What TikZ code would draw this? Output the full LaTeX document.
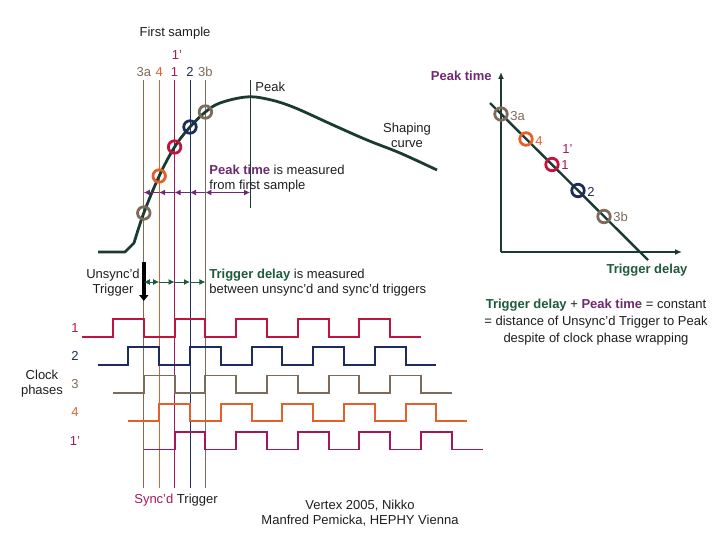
\documentclass[tikz,border=0pt]{standalone}
\usepackage{fontspec}
\setmainfont{Liberation Sans}
\usepackage{xcolor}
\usepackage{tikz}
\usetikzlibrary{arrows.meta}

\definecolor{curvecol}{HTML}{1B3A33}
\definecolor{ph1}{HTML}{C0143F}
\definecolor{ph2}{HTML}{1E2B5E}
\definecolor{ph3}{HTML}{7D6B5A}
\definecolor{ph4}{HTML}{E2602A}
\definecolor{ph1p}{HTML}{A3185A}
\definecolor{peakcol}{HTML}{6E2A6E}
\definecolor{trigcol}{HTML}{1E5A3C}
\definecolor{txtcol}{HTML}{1E1E1E}

\newcommand{\qstep}{15.4}

\begin{document}
\begin{tikzpicture}[x=1pt, y=-1pt, line width=0.8pt,
  every node/.style={font=\fontsize{13}{15}\selectfont, text=txtcol, inner sep=1pt},
  smp/.style={circle, draw=#1, line width=2.8pt, minimum size=12.5pt, inner sep=0pt},
  curve/.style={draw=curvecol, line width=2.8pt, line join=round},
  clk/.style={line width=1.9pt, line join=miter},
  peakarr/.style={draw=peakcol, line width=1pt},
  trigarr/.style={draw=trigcol, line width=1pt},
  tip/.style={-{Latex[length=6pt,width=6pt]}}]
  \useasboundingbox (0,0) rectangle (720,540);

  % sample lines
  \coordinate (t3a) at (143.8, 80);  \coordinate (b3a) at (143.8, 488);
  \coordinate (t4)  at (159.2, 80);  \coordinate (b4)  at (159.2, 488);
  \coordinate (t1)  at (174.6, 80);  \coordinate (b1)  at (174.6, 488);
  \coordinate (t2)  at (190.0, 80);  \coordinate (b2)  at (190.0, 488);
  \coordinate (t3b) at (205.4, 80);  \coordinate (b3b) at (205.4, 488);
  \coordinate (pktop) at (250, 80);  \coordinate (pkbot) at (250, 208);

  \draw[ph3]  (t3a) -- (b3a);
  \draw[ph4]  (t4)  -- (b4);
  \draw[ph1p] (t1)  -- (b1);
  \draw[ph2]  (t2)  -- (b2);
  \draw[ph3]  (t3b) -- (b3b);
  \draw[curvecol, line width=1pt] (pktop) -- (pkbot);

  \node at (175, 33) {First sample};
  \node[text=ph1p] at (177, 55) {1'};
  \node[text=ph3]  at (t3a |- 0,72) {3a};
  \node[text=ph4]  at (t4 |- 0,72)  {4};
  \node[text=ph1p] at (t1 |- 0,72)  {1};
  \node[text=ph2]  at (t2 |- 0,72)  {2};
  \node[text=ph3]  at (t3b |- 0,72) {3b};
  \node[right] at (254, 87) {Peak};

  % shaping curve
  \draw[curve] (98,252) -- (125,252) -- (134,243)
    plot[smooth, tension=0.6] coordinates {(134,243) (143.8,213) (159.2,176)
      (174.6,147) (190,127) (205.4,112) (220,103) (246,97) (267,99) (293,107)
      (333,125) (367,140) (400,153) (437,170)};
  \node[smp=ph3] (c3a) at (143.8,213) {};
  \node[smp=ph4] (c4)  at (159.2,176) {};
  \node[smp=ph1] (c1)  at (174.6,147) {};
  \node[smp=ph2] (c2)  at (190,127) {};
  \node[smp=ph3] (c3b) at (205.4,112) {};
  \node[align=center] at (407, 135) {Shaping\\curve};

  % peak time
  \coordinate (pkrow) at (0, 192.5);
  \foreach \a/\b in {t4/t3a, t1/t4, t2/t1, t3b/t2}
    \draw[peakarr, tip] (\a |- pkrow) -- (\b |- pkrow);
  \draw[peakarr, {Latex[length=6pt,width=6pt]}-{Latex[length=6pt,width=6pt]}]
    (t3b |- pkrow) -- (pktop |- pkrow);
  \node[right, align=left] at (208, 178.5)
    {\textcolor{peakcol}{\textbf{Peak time}} is measured\\from first sample};

  % trigger delay
  \coordinate (trow) at (0, 282);
  \coordinate (ut) at (143.8, 262);
  \coordinate (ub) at (143.8, 301);
  \draw[black, line width=4.5pt, -{Triangle[length=6pt,width=9pt]}] (ut) -- (ub);
  \draw[trigarr, {Latex[length=6pt,width=6pt]}-{Latex[length=6pt,width=6pt]}]
    (t3a |- trow) -- (t4 |- trow);
  \foreach \a/\b in {t4/t1, t1/t2, t2/t3b}
    \draw[trigarr, tip] (\a |- trow) -- (\b |- trow);
  \node[align=center] at (113, 283) {Unsync'd\\Trigger};
  \node[right, align=left] at (208, 282.5)
    {\textcolor{trigcol}{\textbf{Trigger delay}} is measured\\between unsync'd and sync'd triggers};

  % clock phases
  \foreach \k/\c/\lab in {0/ph1/1, 1/ph2/2, 2/ph3/3, 3/ph4/4, 4/ph1p/1'} {
    \pgfmathsetmacro{\xs}{82.2+\k*\qstep}
    \pgfmathsetmacro{\yl}{336.7+\k*28.2}
    \draw[clk, \c] (\xs,\yl) \foreach \p in {0,...,4} {
      -- ++(2*\qstep,0) -- ++(0,-17.6) -- ++(2*\qstep,0) -- ++(0,17.6) }
      -- ++(2*\qstep,0);
    \node[text=\c] at (75,\yl-8.8) {\lab};
  }
  \node[align=center] at (42, 384) {Clock\\phases};
  \node at (176, 500.5) {\textcolor{ph1p}{Sync'd} Trigger};

  % peak time vs trigger delay
  \coordinate (org) at (501, 252);
  \coordinate (yax) at (501, 72);
  \coordinate (xax) at (682, 252);
  \coordinate (d0) at (490, 103);
  \coordinate (d1) at (648, 260);
  \draw[curvecol, line width=2.4pt, -{Latex[length=7pt,width=6pt]}] (org) -- (yax);
  \draw[curvecol, line width=2.4pt, -{Latex[length=7pt,width=6pt]}] (org) -- (xax);
  \draw[curvecol, line width=2.4pt] (d0) -- (d1);
  \node[smp=ph3] (r3a) at (501, 114) {};
  \node[smp=ph4] (r4)  at (526, 139) {};
  \node[smp=ph1] (r1)  at (552, 164.5) {};
  \node[smp=ph2] (r2)  at (578, 190.5) {};
  \node[smp=ph3] (r3b) at (604, 216.5) {};
  \node[right, text=ph3]  at (509, 116) {3a};
  \node[right, text=ph4]  at (534, 141) {4};
  \node[right, text=ph1p] at (561, 149) {1'};
  \node[right, text=ph1p] at (560, 165) {1};
  \node[right, text=ph2]  at (586, 192) {2};
  \node[right, text=ph3]  at (612, 217) {3b};
  \node[left, text=peakcol, font=\fontsize{13}{15}\selectfont\bfseries] at (493, 76) {Peak time};
  \node[text=trigcol, font=\fontsize{13}{15}\selectfont\bfseries] at (647, 270) {Trigger delay};
  \node[align=center] at (596, 322)
    {\textcolor{trigcol}{\textbf{Trigger delay}} + \textcolor{peakcol}{\textbf{Peak time}} = constant\\[2pt]
     = distance of Unsync'd Trigger to Peak\\[2pt]
     despite of clock phase wrapping};

  \node[align=center] at (360, 513) {Vertex 2005, Nikko\\Manfred Pemicka, HEPHY Vienna};
\end{tikzpicture}
\end{document}
